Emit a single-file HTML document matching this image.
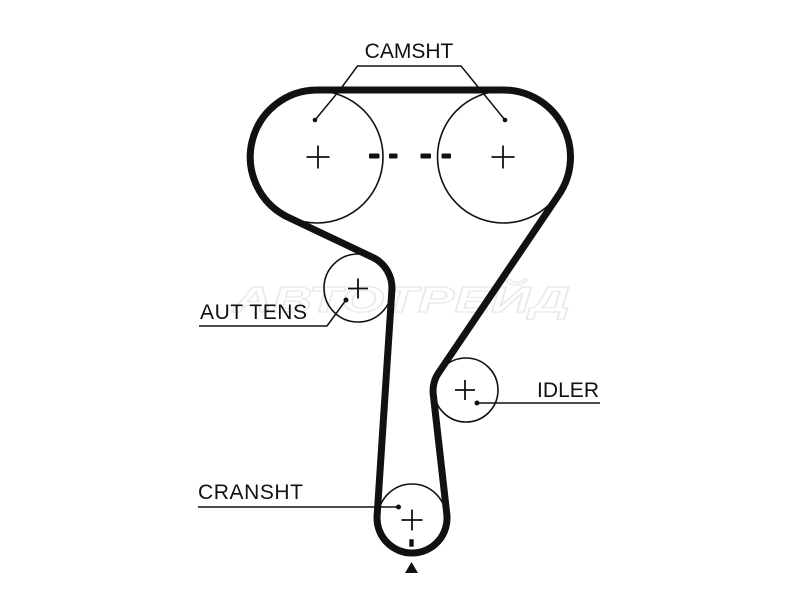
<!DOCTYPE html>
<html>
<head>
<meta charset="utf-8">
<style>
  html, body { margin: 0; padding: 0; background: #ffffff; }
  body { width: 800px; height: 600px; overflow: hidden; }
  svg { display: block; }
  .lbl { font-family: "Liberation Sans", "DejaVu Sans", sans-serif; font-size: 21px; fill: #111; }
</style>
</head>
<body>
<svg width="800" height="600" viewBox="0 0 800 600" xmlns="http://www.w3.org/2000/svg">
  <rect x="0" y="0" width="800" height="600" fill="#ffffff"/>

  <!-- faint watermark -->
  <text x="233" y="312" textLength="337" lengthAdjust="spacingAndGlyphs"
        font-family="Liberation Sans, DejaVu Sans, sans-serif" font-size="36" font-weight="bold" font-style="italic"
        fill="#ffffff" stroke="#e9e9e9" stroke-width="1.2">АВТОТРЕЙД</text>

  <!-- pulleys -->
  <g fill="none" stroke="#111" stroke-width="1.6">
    <circle cx="317" cy="157" r="66"/>
    <circle cx="503.5" cy="157" r="66"/>
    <circle cx="358" cy="288" r="34"/>
    <circle cx="466" cy="390" r="32"/>
    <circle cx="412" cy="518" r="34"/>
  </g>

  <!-- crosses -->
  <g stroke="#111" stroke-width="1.8" fill="none">
    <path d="M306.5 157 H329.5 M318 145.5 V168.5"/>
    <path d="M491.5 157 H514.5 M503 145.5 V168.5"/>
    <path d="M348 288.5 H368 M358 278.5 V298.5"/>
    <path d="M455 390 H475 M465 380 V400"/>
    <path d="M401.5 520 H422.5 M412 509.5 V530.5"/>
  </g>

  <!-- camshaft centre dashes -->
  <g fill="#111">
    <rect x="369" y="153.5" width="10.5" height="5" rx="1"/>
    <rect x="389" y="153.5" width="8.5" height="5" rx="1"/>
    <rect x="420.5" y="153.5" width="10.5" height="5" rx="1"/>
    <rect x="441.5" y="153.5" width="9.5" height="5" rx="1"/>
  </g>

  <!-- belt -->
  <path d="M317 90 L503.5 90 A67 67 0 0 1 558.6 195.1 L439.7 371.2 A33 33 0 0 0 433.2 393.8 L446.8 514 A35 35 0 1 1 377.1 515.9 L391.9 290.1 A34 34 0 0 0 374 258 L285.5 216 A67 67 0 0 1 317 90 Z"
        fill="none" stroke="#111" stroke-width="7" stroke-linejoin="round"/>

  <!-- crank timing mark and arrow -->
  <rect x="409.3" y="539.3" width="4.4" height="7.4" fill="#111"/>
  <polygon points="411.5,562 405,573 418,573" fill="#111"/>

  <!-- CAMSHT label + leaders -->
  <text class="lbl" x="409" y="58" text-anchor="middle">CAMSHT</text>
  <g fill="none" stroke="#111" stroke-width="1.5">
    <path d="M315 120 L339 91 L357.5 66 H461 L505 120"/>
    <path d="M199 326 H327 L346 300"/>
    <path d="M477 403 H600"/>
    <path d="M198 507 H398"/>
  </g>
  <g fill="#111">
    <circle cx="315" cy="120" r="2.3"/>
    <circle cx="505" cy="120" r="2.3"/>
    <circle cx="346" cy="300" r="2.5"/>
    <circle cx="477" cy="403" r="2.5"/>
    <circle cx="398.5" cy="507" r="2.5"/>
  </g>

  <text class="lbl" x="200" y="319" textLength="107" lengthAdjust="spacing">AUT TENS</text>
  <text class="lbl" x="537" y="397" textLength="62" lengthAdjust="spacing">IDLER</text>
  <text class="lbl" x="198" y="499" textLength="105" lengthAdjust="spacing">CRANSHT</text>
</svg>
</body>
</html>
